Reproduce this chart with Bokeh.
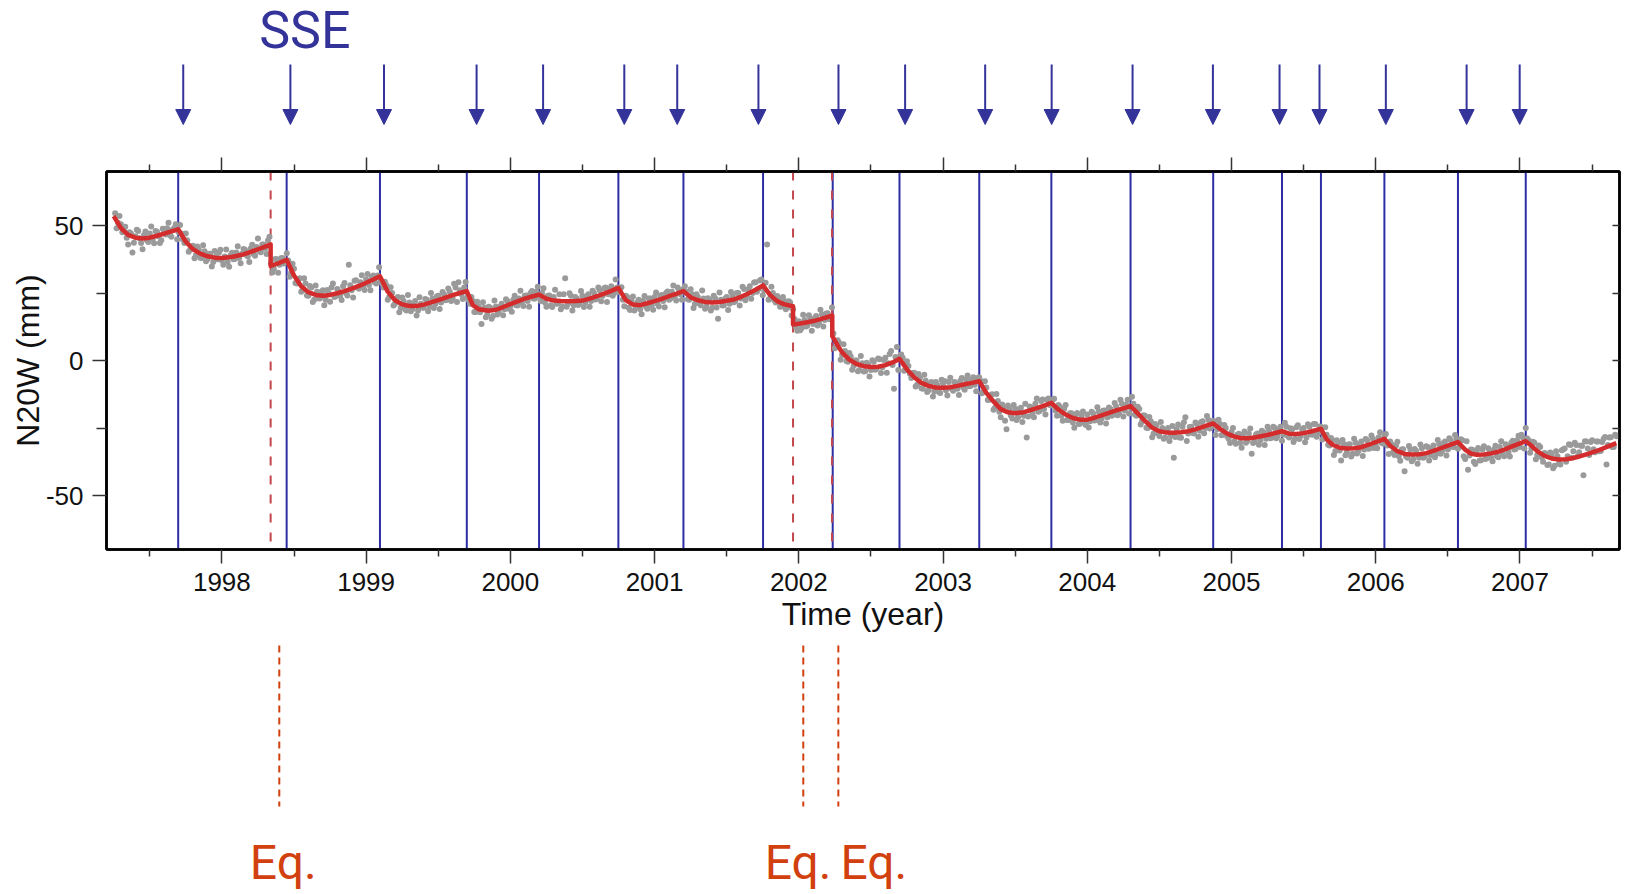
import numpy as np
from bokeh.plotting import figure
from bokeh.layouts import column
from bokeh.models import Range1d, LinearAxis, FixedTicker, Span, Arrow, NormalHead, ColumnDataSource
from bokeh.embed import file_html
from bokeh.resources import INLINE
from bokeh.core.properties import value

# ---------------- data ----------------
# SSE onsets (vertical blue lines in the panel), year
sse_line_t = [1997.697, 1998.449, 1999.096, 1999.698, 2000.199, 2000.749, 2001.200,
              2001.752, 2002.235, 2002.698, 2003.251, 2003.751, 2004.300, 2004.873,
              2005.350, 2005.620, 2006.060, 2006.570, 2007.040]
# SSE arrows above the panel, year
sse_arrow_t = [1997.732, 1998.475, 1999.124, 1999.766, 2000.227, 2000.790, 2001.157,
               2001.720, 2002.275, 2002.737, 2003.292, 2003.753, 2004.314, 2004.871,
               2005.333, 2005.610, 2006.070, 2006.630, 2006.998]
sse_label = "SSE"
sse_label_t = 1998.575
# earthquakes (dashed red lines in the panel), year
eq_line_t = [1998.338, 2001.960, 2002.230]
# earthquake markers below the panel, year
eq_mark_t = [1998.398, 2002.031, 2002.274]
eq_labels = ["Eq.", "Eq.", "Eq."]
eq_label_t = [1998.194, 2001.763, 2002.289]

# fitted model (red curve), year / mm
fit_t = [1997.25, 1997.30, 1997.35, 1997.40, 1997.45, 1997.50, 1997.55, 1997.60, 1997.65, 1997.697,
         1997.75, 1997.80, 1997.85, 1997.90, 1997.95, 1998.00, 1998.05, 1998.10, 1998.15, 1998.20,
         1998.25, 1998.30, 1998.338, 1998.338, 1998.40, 1998.449, 1998.50, 1998.55, 1998.60, 1998.65,
         1998.70, 1998.75, 1998.80, 1998.85, 1998.90, 1998.95, 1999.00, 1999.05, 1999.096, 1999.15,
         1999.20, 1999.25, 1999.30, 1999.35, 1999.40, 1999.45, 1999.50, 1999.55, 1999.60, 1999.65,
         1999.698, 1999.74, 1999.78, 1999.85, 1999.90, 1999.95, 2000.00, 2000.05, 2000.10, 2000.15,
         2000.199, 2000.25, 2000.30, 2000.35, 2000.40, 2000.45, 2000.50, 2000.55, 2000.60, 2000.65,
         2000.70, 2000.749, 2000.80, 2000.85, 2000.90, 2000.95, 2001.00, 2001.05, 2001.10, 2001.15,
         2001.200, 2001.25, 2001.30, 2001.35, 2001.40, 2001.45, 2001.50, 2001.55, 2001.60, 2001.65,
         2001.70, 2001.752, 2001.80, 2001.85, 2001.90, 2001.960, 2001.960, 2002.00, 2002.05, 2002.10,
         2002.15, 2002.20, 2002.232, 2002.232, 2002.27, 2002.30, 2002.35, 2002.40, 2002.45, 2002.50,
         2002.55, 2002.60, 2002.65, 2002.698, 2002.75, 2002.80, 2002.85, 2002.90, 2002.95, 2003.00,
         2003.05, 2003.10, 2003.15, 2003.20, 2003.251, 2003.30, 2003.35, 2003.40, 2003.45, 2003.50,
         2003.55, 2003.60, 2003.65, 2003.70, 2003.751, 2003.80, 2003.85, 2003.90, 2003.95, 2004.00,
         2004.05, 2004.10, 2004.15, 2004.20, 2004.25, 2004.30, 2004.35, 2004.40, 2004.45, 2004.50,
         2004.55, 2004.60, 2004.65, 2004.70, 2004.75, 2004.80, 2004.873, 2004.92, 2004.97, 2005.02,
         2005.07, 2005.12, 2005.17, 2005.22, 2005.27, 2005.35, 2005.40, 2005.45, 2005.50, 2005.55,
         2005.62, 2005.66, 2005.70, 2005.75, 2005.80, 2005.85, 2005.90, 2005.95, 2006.00, 2006.06,
         2006.10, 2006.15, 2006.20, 2006.25, 2006.30, 2006.35, 2006.40, 2006.45, 2006.50, 2006.57,
         2006.62, 2006.66, 2006.70, 2006.75, 2006.80, 2006.85, 2006.90, 2006.95, 2007.00, 2007.04,
         2007.08, 2007.12, 2007.17, 2007.22, 2007.27, 2007.32, 2007.37, 2007.42, 2007.47, 2007.52,
         2007.57, 2007.62, 2007.668]
fit_y = [53.5, 49.0, 46.5, 45.5, 45.2, 45.5, 46.2, 47.0, 47.8, 48.6,
         44.0, 41.2, 39.6, 38.6, 38.1, 38.0, 38.2, 38.7, 39.3, 40.2,
         41.2, 42.2, 43.0, 35.0, 36.2, 37.3, 31.5, 27.5, 25.3, 24.3,
         24.0, 24.3, 24.9, 25.7, 26.6, 27.6, 28.8, 30.0, 31.2, 25.5,
         22.3, 20.8, 20.2, 20.2, 20.7, 21.5, 22.4, 23.3, 24.2, 25.0,
         25.7, 20.5, 19.0, 18.4, 18.8, 19.8, 20.9, 21.9, 22.9, 23.7,
         24.4, 22.9, 22.2, 22.0, 21.9, 22.0, 22.2, 22.9, 23.8, 24.8,
         25.8, 26.9, 22.4, 20.7, 20.5, 21.2, 22.0, 22.8, 23.8, 24.7,
         25.7, 23.4, 22.3, 21.7, 21.5, 21.7, 22.1, 22.6, 23.6, 24.8,
         26.2, 27.8, 24.3, 22.0, 20.8, 20.1, 13.3, 13.6, 14.1, 14.6,
         15.3, 16.1, 16.7, 9.0, 5.5, 3.0, 0.3, -1.3, -2.1, -2.4,
         -2.3, -1.7, -0.7, 0.6, -3.3, -6.2, -8.3, -9.4, -10.0, -10.1,
         -9.9, -9.4, -8.8, -8.3, -7.7, -12.0, -15.2, -18.0, -19.2, -19.5,
         -19.3, -18.5, -17.6, -16.7, -15.7, -18.2, -20.0, -21.3, -21.9, -21.9,
         -21.2, -20.3, -19.4, -18.5, -17.7, -16.9, -19.6, -22.4, -24.9, -26.2,
         -26.7, -26.8, -26.6, -26.2, -25.5, -24.6, -23.3, -25.3, -27.1, -28.2,
         -28.8, -28.8, -28.4, -27.9, -27.3, -26.2, -27.1, -27.2, -26.9, -26.3,
         -25.3, -29.2, -31.2, -32.3, -32.6, -32.5, -32.1, -31.2, -30.2, -29.0,
         -31.6, -33.6, -34.6, -34.8, -34.7, -34.3, -33.5, -32.5, -31.5, -30.2,
         -33.0, -34.5, -34.9, -34.8, -34.4, -33.8, -32.8, -31.7, -30.7, -29.9,
         -31.6, -33.6, -35.3, -36.3, -36.7, -36.6, -36.1, -35.4, -34.6, -33.7,
         -32.7, -31.6, -30.6]

# GPS observations (grey dots), mm; series "a" sampled every gps_step years from each start,
# series "b" sampled half a step later
gps_step = 0.02
gps_1997_start = 1997.26
gps_1997 = [54.5, 51.0, 50.5, 48.0, 45.5, 47.5, 40.0, 46.0, 48.0, 43.5,
            46.5, 44.5, 47.0, 45.0, 48.0, 46.0, 44.5, 47.5, 49.0, 46.5,
            48.5, 50.5, 47.5, 47.0, 43.5, 44.5, 41.0, 42.5, 39.0, 41.0,
            38.0, 40.5, 37.5, 39.5, 36.5, 38.5, 40.0]
gps_1998 = [37.0, 38.5, 36.5, 39.0, 37.5, 40.0, 38.0, 39.5, 41.0, 38.5,
            41.5, 39.5, 42.0, 40.5, 43.0, 41.5, 44.5, 36.0, 34.0, 37.5,
            35.5, 38.0, 36.5, 37.0, 32.5, 34.0, 28.5, 30.5, 26.0, 28.5,
            24.0, 27.0, 22.5, 25.5, 23.0, 26.0, 22.5, 25.0, 27.0, 23.5,
            26.5, 24.0, 27.5, 25.0, 35.5, 26.0, 29.5, 27.0, 29.0, 27.5]
gps_1999 = [30.0, 28.0, 31.0, 29.0, 31.5, 29.5, 27.0, 28.0, 23.5, 25.0,
            21.0, 23.5, 19.5, 22.0, 18.5, 21.5, 19.0, 22.0, 18.5, 21.0,
            19.5, 22.5, 20.0, 23.0, 21.0, 24.0, 21.5, 24.5, 22.5, 25.5,
            23.0, 27.0, 29.0, 24.5, 27.0, 23.5, 21.0, 22.0, 18.0, 20.0,
            13.5, 19.5, 17.0, 19.5, 16.5, 20.0, 18.0, 21.0, 19.0, 22.0]
gps_2000 = [20.0, 22.5, 20.5, 23.0, 21.5, 24.0, 22.0, 25.0, 23.0, 25.5,
            23.5, 25.0, 21.5, 24.0, 20.5, 23.5, 21.0, 24.5, 20.0, 30.5,
            21.0, 24.0, 20.5, 23.0, 21.0, 24.0, 21.5, 24.5, 22.0, 25.0,
            23.0, 26.0, 24.0, 27.0, 24.5, 27.5, 25.0, 27.0, 26.5, 22.5,
            24.0, 19.5, 22.0, 18.5, 21.5, 19.0, 22.0, 20.0, 23.0, 20.5]
gps_2001 = [23.5, 21.0, 24.0, 22.0, 25.0, 22.5, 25.5, 23.5, 27.0, 24.5,
            26.5, 25.5, 22.5, 24.5, 21.0, 23.5, 20.5, 23.0, 20.0, 22.5,
            19.5, 23.0, 15.5, 22.5, 20.5, 23.5, 21.0, 24.0, 22.0, 25.0,
            23.0, 26.5, 24.0, 27.5, 25.0, 29.0, 26.5, 30.0, 26.0, 43.0,
            23.0, 25.0, 21.5, 23.0, 20.0, 22.0, 19.5, 21.5, 19.0, 12.5]
gps_2002 = [14.5, 12.0, 15.0, 13.0, 15.5, 13.5, 16.5, 14.0, 17.0, 15.0,
            17.5, 15.5, 10.0, 5.0, 6.5, 2.0, 3.5, -0.5, 1.5, -2.0,
            0.0, -3.5, -1.0, -4.0, -1.5, -3.5, -0.5, -3.0, 0.5, -2.5,
            1.0, -1.0, 3.5, -10.5, 5.0, 1.5, 1.0, -3.5, -2.0, -6.5,
            -4.5, -9.0, -6.5, -10.5, -7.5, -11.0, -8.0, -11.5, -9.0, -12.0]
gps_2003 = [-8.5, -11.0, -8.0, -10.5, -8.0, -10.5, -7.5, -10.0, -7.0, -9.5,
            -7.0, -9.0, -6.5, -7.5, -11.5, -10.0, -14.5, -12.5, -17.5, -15.0,
            -21.0, -17.5, -25.5, -18.0, -21.5, -18.0, -21.0, -17.5, -20.5, -28.5,
            -17.0, -19.5, -16.0, -19.0, -15.0, -18.0, -14.5, -16.5, -14.5, -18.5,
            -16.5, -20.5, -18.0, -22.0, -19.5, -23.0, -20.0, -23.5, -20.5, -23.0]
gps_2004 = [-20.0, -22.5, -19.5, -22.0, -19.0, -21.5, -18.5, -21.0, -18.0, -20.0,
            -17.0, -19.5, -16.0, -18.5, -14.5, -17.5, -16.0, -20.5, -18.0, -22.5,
            -20.5, -25.0, -22.5, -27.0, -24.0, -28.0, -25.0, -28.5, -25.0, -28.0,
            -36.0, -25.5, -28.5, -24.5, -21.0, -27.0, -24.5, -27.0, -23.5, -26.0,
            -22.5, -25.0, -22.0, -24.5, -22.5, -25.5, -23.5, -27.5, -25.0, -29.0]
gps_2005 = [-26.5, -30.0, -27.5, -30.5, -27.5, -30.5, -27.0, -34.5, -30.0, -27.0,
            -29.5, -26.5, -29.0, -26.0, -28.5, -25.0, -28.0, -24.5, -27.5, -24.5,
            -28.5, -25.5, -29.0, -24.0, -28.0, -25.0, -28.5, -24.5, -27.5, -23.5,
            -27.0, -24.5, -28.5, -27.5, -31.5, -29.5, -33.5, -30.5, -37.0, -31.0,
            -34.0, -31.0, -34.5, -30.5, -33.5, -30.0, -33.0, -29.5, -32.5, -29.0]
gps_2006 = [-31.5, -28.5, -30.5, -28.0, -31.5, -30.0, -34.0, -31.5, -35.5, -33.0,
            -41.0, -36.0, -33.0, -36.5, -33.5, -36.0, -32.5, -35.5, -32.0, -35.0,
            -31.5, -34.5, -31.0, -33.5, -30.0, -33.0, -29.5, -32.0, -29.0, -32.0,
            -29.5, -36.5, -40.5, -33.0, -37.5, -33.5, -37.0, -33.0, -36.5, -32.5,
            -36.0, -33.0, -35.5, -32.0, -34.5, -31.0, -34.0, -30.5, -33.0, -29.5]
gps_2007 = [-32.0, -28.5, -25.0, -29.5, -32.5, -30.5, -35.0, -32.0, -37.5, -34.5,
            -38.5, -35.0, -39.0, -35.5, -38.5, -33.0, -37.5, -31.0, -36.0, -30.5,
            -35.5, -31.5, -42.5, -30.0, -35.0, -29.5, -34.0, -30.0, -33.5, -29.0,
            -38.5, -28.5, -32.0, -27.5]

gps_1997b = [49.0, 53.5, 47.5, 49.5, 43.0, 47.0, 43.6, 48.4, 45.3, 41.2,
             47.8, 43.9, 49.6, 43.4, 47.7, 43.5, 48.8, 46.7, 51.0, 45.8,
             49.1, 44.9, 50.2, 44.8, 47.0, 40.3, 42.2, 37.9, 42.2, 38.1,
             42.7, 36.8, 39.5, 34.8, 40.6, 37.5, 41.0]
gps_1998b = [35.5, 41.1, 34.7, 39.9, 37.6, 42.3, 36.0, 41.3, 39.1, 36.5,
             42.9, 38.8, 45.2, 40.1, 43.0, 39.4, 45.8, 32.6, 37.6, 32.5,
             37.9, 35.9, 39.7, 31.0, 35.8, 28.7, 30.0, 25.5, 30.5, 24.1,
             27.6, 21.7, 27.8, 23.1, 25.5, 20.5, 26.1, 21.8, 28.5, 23.8,
             25.6, 22.4, 28.7, 24.1, 27.9, 23.3, 29.7, 26.6, 31.6, 26.1]
gps_1999b = [32.0, 26.0, 31.5, 28.5, 34.5, 28.5, 29.2, 22.5, 27.1, 20.4,
             23.0, 17.9, 23.3, 19.0, 24.3, 18.2, 20.7, 16.7, 23.4, 19.6,
             22.8, 18.2, 25.0, 19.4, 23.7, 19.1, 25.4, 22.3, 26.7, 22.0,
             28.4, 21.7, 26.0, 22.8, 29.1, 22.5, 23.5, 18.0, 21.8, 17.9,
             21.6, 16.0, 19.9, 15.5, 22.2, 17.0, 19.9, 16.8, 22.7, 19.2]
gps_2000b = [18.1, 24.0, 20.4, 25.8, 20.2, 24.1, 19.9, 25.7, 23.0, 27.3,
             22.0, 26.8, 19.9, 24.1, 19.8, 26.2, 21.1, 19.0, 24.5, 19.9,
             24.9, 18.5, 23.5, 20.6, 25.7, 19.8, 23.6, 19.9, 25.8, 22.6,
             27.0, 21.9, 26.8, 21.7, 26.6, 24.0, 30.0, 25.4, 27.1, 20.1,
             23.5, 18.7, 23.7, 19.6, 22.5, 17.1, 23.9, 19.2, 23.0, 18.8]
gps_2001b = [25.2, 20.0, 24.3, 19.7, 25.6, 23.0, 27.8, 22.2, 26.1, 22.5,
             27.5, 22.7, 26.4, 19.4, 24.5, 21.2, 25.9, 19.2, 23.1, 18.5,
             24.0, 19.6, 25.2, 20.4, 23.0, 18.7, 25.4, 21.6, 25.0, 20.4,
             27.3, 22.3, 26.3, 22.9, 28.9, 25.5, 29.6, 24.2, 28.8, 22.5,
             27.3, 22.3, 23.9, 19.9, 23.5, 19.0, 21.9, 16.7, 15.4, 11.0]
gps_2002b = [11.2, 16.9, 12.6, 16.8, 11.0, 15.7, 13.0, 18.8, 12.6, 17.4,
             15.3, 19.6, 4.5, 7.5, 0.3, 6.0, -0.2, 2.8, -3.4, 0.0,
             -4.0, 1.7, -4.1, -0.8, -5.9, 0.1, -3.4, 0.7, -4.6, 0.2,
             -4.5, 2.4, -1.7, 1.3, -3.5, 2.2, -3.8, -0.3, -4.9, -4.6,
             -9.6, -5.0, -10.3, -5.3, -11.7, -8.5, -13.3, -8.0, -11.6, -7.1]
gps_2003b = [-7.6, -13.0, -6.4, -11.2, -8.5, -12.8, -6.5, -10.8, -5.6, -9.4,
             -6.2, -11.4, -6.2, -12.1, -7.7, -14.6, -12.9, -18.2, -12.4, -19.0,
             -16.3, -22.3, -16.7, -20.4, -16.5, -22.0, -17.9, -22.8, -16.0, -20.7,
             -17.3, -21.0, -14.1, -18.7, -14.4, -20.0, -14.1, -16.7, -14.2, -20.5,
             -17.1, -22.3, -16.5, -22.0, -19.5, -24.9, -19.4, -23.4, -18.9, -23.9]
gps_2004b = [-24.8, -19.0, -22.2, -17.3, -23.0, -18.6, -23.3, -17.4, -20.5, -15.7,
             -20.3, -14.5, -20.7, -16.4, -19.6, -13.4, -20.0, -17.1, -23.7, -20.3,
             -24.9, -20.9, -28.4, -23.5, -27.0, -22.8, -29.0, -25.7, -29.8, -24.3,
             -28.3, -23.7, -28.6, -22.9, -29.8, -24.6, -26.8, -23.0, -28.2, -22.8,
             -26.9, -20.6, -25.2, -22.4, -27.6, -21.9, -27.7, -23.9, -28.1, -30.6]
gps_2005b = [-25.0, -30.8, -27.1, -32.3, -26.3, -29.8, -25.2, -30.6, -27.4, -31.2,
             -26.0, -31.3, -24.5, -28.8, -24.5, -28.8, -25.5, -29.7, -23.1, -28.0,
             -25.1, -30.2, -24.7, -29.1, -25.5, -30.3, -23.6, -27.3, -23.5, -28.2,
             -24.4, -29.3, -24.7, -31.2, -28.7, -35.0, -29.5, -33.3, -29.4, -35.1,
             -31.1, -35.6, -29.0, -34.4, -31.2, -35.4, -29.1, -32.7, -27.8, -32.4]
gps_2006b = [-32.5, -26.6, -30.7, -27.2, -34.6, -31.1, -35.0, -30.1, -37.1, -32.9,
             -35.6, -31.7, -37.3, -32.8, -38.2, -31.1, -36.0, -31.8, -37.0, -32.7,
             -35.8, -29.4, -34.5, -30.6, -35.2, -28.8, -31.9, -27.6, -32.7, -29.2,
             -35.5, -29.9, -35.2, -33.1, -38.3, -32.4, -36.9, -31.8, -36.2, -33.5,
             -37.3, -31.6, -35.8, -29.9, -35.5, -31.6, -35.6, -29.7, -32.8, -27.9]
gps_2007b = [-27.5, -32.6, -28.9, -34.2, -30.1, -36.6, -31.5, -35.8, -34.3, -38.7,
             -34.1, -39.9, -33.6, -38.2, -33.2, -32.6, -35.5, -31.3, -33.6, -31.3,
             -34.0, -31.7, -29.9, -32.6, -30.2, -32.9, -30.0, -33.6, -30.2, -28.3,
             -31.3, -28.4, -32.0, -28.1]

gps_starts = [gps_1997_start, 1998.0, 1999.0, 2000.0, 2001.0, 2002.0,
              2003.0, 2004.0, 2005.0, 2006.0, 2007.0]
gps_a = [gps_1997, gps_1998, gps_1999, gps_2000, gps_2001, gps_2002,
         gps_2003, gps_2004, gps_2005, gps_2006, gps_2007]
gps_b = [gps_1997b, gps_1998b, gps_1999b, gps_2000b, gps_2001b, gps_2002b,
         gps_2003b, gps_2004b, gps_2005b, gps_2006b, gps_2007b]

x_major_ticks = [1998, 1999, 2000, 2001, 2002, 2003, 2004, 2005, 2006, 2007]
x_minor_ticks = [1997.5, 1998.5, 1999.5, 2000.5, 2001.5, 2002.5, 2003.5, 2004.5, 2005.5, 2006.5, 2007.5]
y_major_ticks = [-50, 0, 50]
y_major_labels = ["-50", "0", "50"]
y_minor_ticks = [-25, 25]
x_label = "Time (year)"
y_label = "N20W (mm)"

# ---------------- build ----------------
gps_t, gps_y = [], []
for start, ya_, yb_ in zip(gps_starts, gps_a, gps_b):
    for k, yv in enumerate(ya_):
        gps_t.append(round(start + gps_step * k, 4))
        gps_y.append(yv)
    for k, yv in enumerate(yb_):
        gps_t.append(round(start + gps_step * (k + 0.5), 4))
        gps_y.append(yv)

BLUE_TXT = "#333399"
BLUE_LINE = "#2e2ea4"
RED_FIT = "#d42c2c"
RED_EQ = "#c2464b"
ORANGE = "#d2400f"
GREY = "#9a9a9a"
SANS = "Liberation Sans"

W = 1630
BL, BR = 106, 11
xr = Range1d(1997.2, 2007.69)

# --- top strip: SSE arrows (page y 0..148) ---
top = figure(width=W, height=148, x_range=xr, y_range=Range1d(148, 0),
             x_axis_location=None, y_axis_location=None,
             output_backend="svg", toolbar_location=None,
             min_border_left=BL, min_border_right=BR, min_border_top=0, min_border_bottom=0)
top.grid.visible = False
top.outline_line_color = None
n = len(sse_arrow_t)
asrc = ColumnDataSource(dict(x0=sse_arrow_t, y0=[64] * n, x1=sse_arrow_t, y1=[124] * n))
top.add_layout(Arrow(end=NormalHead(size=15, fill_color=BLUE_TXT, line_color=BLUE_TXT, line_width=1),
                     x_start="x0", y_start="y0", x_end="x1", y_end="y1", source=asrc,
                     line_color=BLUE_TXT, line_width=2))
top.text(x=[sse_label_t], y=[30], text=[sse_label], text_font=value("Roboto"),
         text_font_size="52px", text_color=BLUE_TXT, text_align="center", text_baseline="alphabetic")

# --- main panel (page y 148..641) ---
p = figure(width=W, height=493, x_range=xr, y_range=Range1d(-70, 70),
           output_backend="svg", toolbar_location=None,
           min_border_left=BL, min_border_right=BR, min_border_top=23, min_border_bottom=92)
p.grid.visible = False
p.outline_line_color = "black"
p.outline_line_width = 2.5

xa = p.xaxis[0]
xa.ticker = FixedTicker(ticks=x_major_ticks, minor_ticks=x_minor_ticks)
ya = p.yaxis[0]
ya.ticker = FixedTicker(ticks=y_major_ticks, minor_ticks=y_minor_ticks)
ya.major_label_overrides = {t: s for t, s in zip(y_major_ticks, y_major_labels)}
for ax in (xa, ya):
    ax.axis_line_width = 2.5
    ax.axis_line_color = "black"
    ax.major_tick_in = 0
    ax.minor_tick_in = 0
    ax.major_tick_line_color = "#333333"
    ax.minor_tick_line_color = "#333333"
    ax.major_tick_line_width = 1.5
    ax.minor_tick_line_width = 1.5
    ax.major_label_text_font = SANS
    ax.major_label_text_font_size = "26px"
    ax.major_label_text_color = "#111111"
    ax.axis_label_text_font = SANS
    ax.axis_label_text_font_size = "32px"
    ax.axis_label_text_font_style = "normal"
    ax.axis_label_text_color = "#111111"
xa.major_tick_out = 14
xa.minor_tick_out = 7
xa.major_label_standoff = 9
xa.axis_label = x_label
xa.axis_label_standoff = 2
ya.major_tick_out = 14
ya.minor_tick_out = 10
ya.major_label_standoff = 9
ya.axis_label = y_label
ya.axis_label_standoff = -3

ta = LinearAxis(ticker=FixedTicker(ticks=x_major_ticks, minor_ticks=x_minor_ticks),
                axis_line_width=2.5, axis_line_color="black",
                major_tick_in=0, minor_tick_in=0, major_tick_out=14, minor_tick_out=7,
                major_tick_line_color="#333333", minor_tick_line_color="#333333",
                major_tick_line_width=1.5, minor_tick_line_width=1.5,
                major_label_overrides={t: "" for t in x_major_ticks},
                major_label_text_font_size="1px", major_label_standoff=0)
p.add_layout(ta, "above")
r_ticks = sorted(y_major_ticks + y_minor_ticks)
ra = LinearAxis(ticker=FixedTicker(ticks=r_ticks),
                axis_line_width=2.5, axis_line_color="black",
                major_tick_in=7, major_tick_out=0, minor_tick_in=0, minor_tick_out=0,
                major_tick_line_color="#333333", major_tick_line_width=1.5,
                major_label_overrides={t: "" for t in r_ticks},
                major_label_text_font_size="1px", major_label_standoff=0)
p.add_layout(ra, "right")

for t in sse_line_t:
    p.add_layout(Span(location=t, dimension="height", line_color=BLUE_LINE,
                      line_width=2, level="underlay"))
for t in eq_line_t:
    p.add_layout(Span(location=t, dimension="height", line_color=RED_EQ,
                      line_width=2, line_dash="9 10", level="underlay"))

p.scatter(gps_t, gps_y, size=6, fill_color=GREY, line_color=None, marker="circle")
p.line(fit_t, fit_y, line_width=4.5, line_color=RED_FIT, line_join="round")

# --- bottom strip: earthquakes (page y 641..894) ---
bot = figure(width=W, height=253, x_range=xr, y_range=Range1d(894, 641),
             x_axis_location=None, y_axis_location=None,
             output_backend="svg", toolbar_location=None,
             min_border_left=BL, min_border_right=BR, min_border_top=0, min_border_bottom=0)
bot.grid.visible = False
bot.outline_line_color = None
m = len(eq_mark_t)
bot.segment(x0=eq_mark_t, y0=[645] * m, x1=eq_mark_t, y1=[806] * m,
            line_color=ORANGE, line_width=2, line_dash="7 5")
bot.text(x=eq_label_t, y=[862] * m, text=eq_labels, text_font=value("Roboto"),
         text_font_size="48px", text_color=ORANGE, text_align="left", text_baseline="alphabetic")

layout = column(top, p, bot, spacing=0)
open("out.html", "w").write(file_html(layout, INLINE))
